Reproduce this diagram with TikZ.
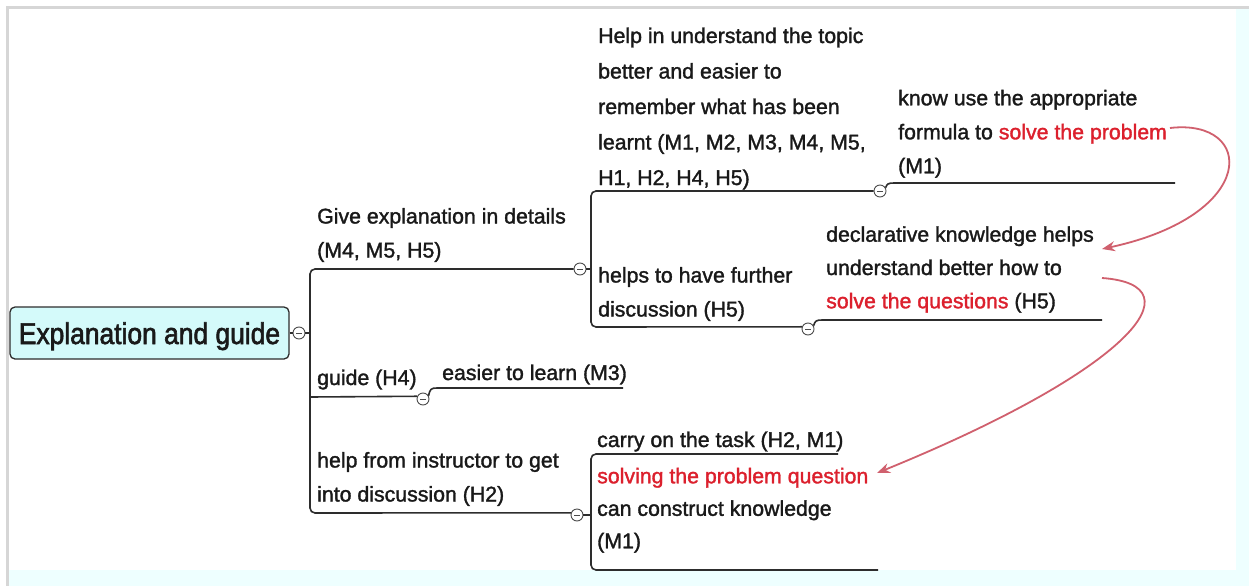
\documentclass[tikz,border=0pt]{standalone}
\usepackage{fontspec}
\setmainfont{Liberation Sans}[FakeBold=1.5]
\newfontfamily\rootfont{Liberation Sans}[FakeStretch=0.88,FakeBold=2]
\usetikzlibrary{arrows.meta}
\definecolor{ink}{RGB}{25,25,25}
\definecolor{wire}{RGB}{45,45,45}
\definecolor{hot}{RGB}{220,32,45}
\definecolor{linkred}{RGB}{208,96,110}
\definecolor{rootfill}{RGB}{212,250,250}
\definecolor{framegray}{RGB}{214,214,214}
\definecolor{edgecyan}{RGB}{238,255,255}
\newcommand{\hot}[1]{{\color{hot}#1}}

\begin{document}
\begin{tikzpicture}[x=1pt,y=-1pt,
  % multi-line texts are placed by the baseline of their last line
  txt/.style={anchor=base west, inner sep=0pt, align=left, text=ink,
    font=\fontsize{21.3}{34}\selectfont},
  txtskip/.style={txt, font=\fontsize{21.3}{#1}\selectfont},
  rootbox/.style={draw=wire, fill=rootfill, line width=1.3pt, rounded corners=5pt,
    minimum width=279pt, minimum height=52pt, inner sep=0pt, text=ink,
    text height=22pt, text depth=0pt, font=\rootfont\fontsize{30}{30}\selectfont},
  collapse/.style={circle, draw=wire!85, fill=white, line width=0.9pt,
    minimum size=12pt, inner sep=0pt,
    path picture={\draw[line width=0.9pt, wire!85]
      ([xshift=-3pt]path picture bounding box.center) --
      ([xshift=3pt]path picture bounding box.center);}},
  wire/.style={draw=wire, line width=1.6pt},
  linkarrow/.style={draw=linkred, line width=1.8pt,
    -{Stealth[length=13pt,width=10pt]}}
]
% page, frame and edges
\fill[white] (0,0) rectangle (1249,586);
\fill[edgecyan] (1236,9) rectangle (1249,586);
\fill[edgecyan] (9,570) rectangle (1249,586);
\fill[framegray] (6,6) rectangle (1249,9);
\fill[framegray] (6,6) rectangle (9,586);
\useasboundingbox (0,0) rectangle (1249,586);

% central topic
\node[rootbox] (root) at (149.5,333) {Explanation and guide};
\node[collapse] (rootc) at (299,333) {};

% main topics
\node[txt] (give) at (317,257.5) {Give explanation in details\\(M4, M5, H5)};
\node[txt] (guide) at (317,385) {guide (H4)};
\node[txt] (helpfrom) at (317,501.5) {help from instructor to get\\into discussion (H2)};
\node[collapse] (givec) at (580,269) {};
\node[collapse] (guidec) at (423,399) {};
\node[collapse] (helpc) at (577,515) {};

% subtopics
\node[txtskip=35.5] (understand) at (598,185)
  {Help in understand the topic\\better and easier to\\remember what has been\\learnt (M1, M2, M3, M4, M5,\\H1, H2, H4, H5)};
\node[txt] (further) at (598,316.5) {helps to have further\\discussion (H5)};
\node[txt] (easier) at (442,380) {easier to learn (M3)};
\node[txt] (carry) at (597,447) {carry on the task (H2, M1)};
\node[txtskip=32.5] (construct) at (597,548.3)
  {\hot{solving the problem question}\\can construct knowledge\\(M1)};
\node[collapse] (underc) at (880,191) {};
\node[collapse] (furtherc) at (808,329) {};

% detail topics
\node[txt] (formula) at (898,173.3)
  {know use the appropriate\\formula to \hot{solve the problem}\\(M1)};
\node[txtskip=33.3] (declar) at (826,308.3)
  {declarative knowledge helps\\understand better how to\\\hot{solve the questions} (H5)};

% branch lines of the central topic
\draw[wire] (root.east) -- (rootc.west);
\coordinate (trunkmid) at (310,333);
\draw[wire] (rootc.east) -- (trunkmid);
\draw[wire, rounded corners=5pt] (givec.west) -- (310,269) -- (310,513) -- (helpc.160);
\draw[wire] (310,397) -- (guidec.155);

% branch lines of "Give explanation in details"
\coordinate (trunkA) at (591,269);
\draw[wire] (givec.east) -- (trunkA);
\draw[wire, rounded corners=5pt] (underc.west) -- (591,191) -- (591,327) -- (furtherc.160);

% branch lines of "help from instructor"
\coordinate (trunkB) at (591,515);
\coordinate (carryend) at (838,454);
\coordinate (constructend) at (878,570);
\draw[wire] (helpc.east) -- (trunkB);
\draw[wire, rounded corners=5pt] (carryend) -- (591,454) -- (591,570) -- (constructend);

% leaf underlines leaving their collapse buttons
\coordinate (easierend) at (623,388);
\coordinate (formulaend) at (1175,183);
\coordinate (declarend) at (1102,320);
\draw[wire] (guidec.30) .. controls (430,389) and (431,388) .. (437,388) -- (easierend);
\draw[wire] (underc.30) .. controls (887,184) and (888,183) .. (894,183) -- (formulaend);
\draw[wire] (furtherc.30) .. controls (815,321) and (816,320) .. (822,320) -- (declarend);

% relationship arrows
\coordinate (relA1) at (1170,128);
\coordinate (relA2) at (1102,249);
\coordinate (relB1) at (1102,278);
\coordinate (relB2) at (877,473);
\draw[linkarrow] (relA1) .. controls (1255,118) and (1260,215) .. (relA2);
\draw[linkarrow] (relB1) .. controls (1200,285) and (1130,370) .. (relB2);
\end{tikzpicture}
\end{document}
